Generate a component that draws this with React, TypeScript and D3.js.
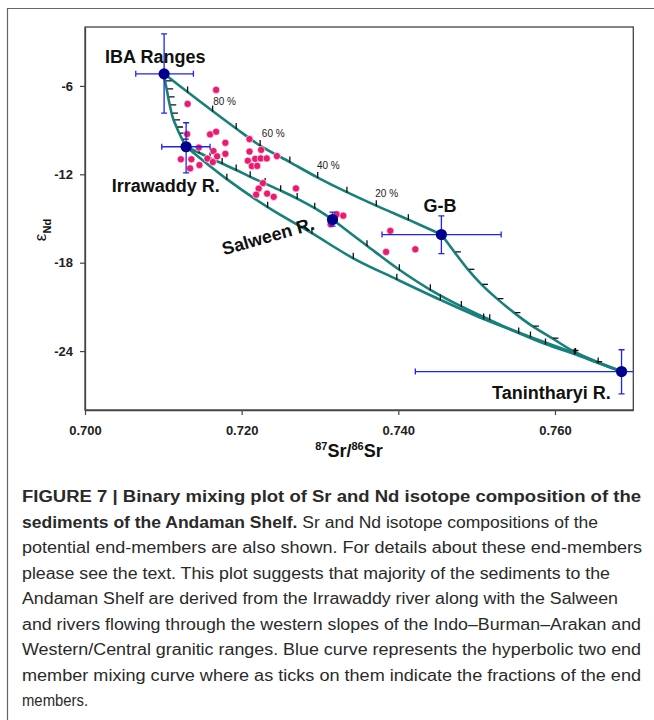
import React, { useEffect, useRef } from "react";
import * as d3 from "d3";

// axis ticks
const X_TICKS = [0.7, 0.72, 0.74, 0.76];
const Y_TICKS = [-6, -12, -18, -24];

// end-members: value and error range (Sr, eNd)
const END_NAMES = ["IBA", "Irrawaddy", "Salween", "GB", "Tanintharyi"];
const END_SR = [0.7101, 0.71291, 0.7316, 0.7455, 0.7685];
const END_ND = [-5.18, -10.13, -15.07, -16.09, -25.39];
const END_SR_LO = [0.70648, 0.7098, 0.73109, 0.73792, 0.74217];
const END_SR_HI = [0.71384, 0.71597, 0.73217, 0.75313, 0.776];
const END_ND_LO = [-7.84, -11.9, -15.52, -17.38, -26.9];
const END_ND_HI = [-2.46, -8.5, -14.57, -14.82, -23.91];

// mixing curves: 10% fraction ticks
const IBA_GB = [
  [0.7131, -6.41], [0.71629, -7.7], [0.7193, -8.89], [0.72236, -10.05], [0.72615, -11.17],
  [0.72971, -12.22], [0.73344, -13.21], [0.73719, -14.13], [0.74128, -15.08],
];
const GB_TAN = [
  [0.74716, -17.27], [0.74888, -18.45], [0.75061, -19.47], [0.75259, -20.44], [0.75476, -21.39],
  [0.75712, -22.31], [0.75962, -23.12], [0.76217, -23.96], [0.76518, -24.71],
];
const IBA_IRR = [
  [0.71022, -5.66], [0.71042, -6.2], [0.71061, -6.75], [0.71082, -7.29], [0.71105, -7.84],
  [0.71131, -8.31], [0.71169, -8.79], [0.71201, -9.2], [0.7124, -9.61],
];
const IRR_SAL = [
  [0.71457, -10.54], [0.71597, -10.9], [0.71751, -11.27], [0.7193, -11.71], [0.72109, -12.17],
  [0.723, -12.63], [0.72498, -13.11], [0.72709, -13.65], [0.72933, -14.3],
];
const SAL_TAN = [
  [0.736, -16.85], [0.74013, -18.48], [0.74409, -19.84], [0.74805, -20.97], [0.75167, -21.88],
  [0.75537, -22.77], [0.75879, -23.52], [0.76249, -24.2], [0.76552, -24.81],
];
const IRR_TAN = [
  [0.71811, -12.33], [0.72332, -14.23], [0.72897, -16.0], [0.73425, -17.7], [0.73981, -19.13],
  [0.74537, -20.52], [0.7509, -21.82], [0.75687, -23.04], [0.76262, -24.16],
];

// Andaman Shelf sediment samples
const SAMPLE_SR = [
  0.71674, 0.7131, 0.71304, 0.71597, 0.71674, 0.71792, 0.71792, 0.71453, 0.7164, 0.71687,
  0.71563, 0.71632, 0.71224, 0.71358, 0.71461, 0.71342, 0.721, 0.721, 0.72249, 0.72079,
  0.7213, 0.72198, 0.72173, 0.72243, 0.7232, 0.7245, 0.72271, 0.72217, 0.72185, 0.72325,
  0.72409, 0.72693, 0.73214, 0.73297, 0.73137, 0.73898, 0.73844, 0.74217,
];
const SAMPLE_ND = [
  -6.27, -7.22, -9.27, -9.29, -9.11, -9.86, -10.61, -10.18, -10.42, -10.78,
  -10.93, -11.17, -10.98, -10.98, -11.37, -11.6, -9.61, -10.46, -10.34, -11.08,
  -11.44, -11.43, -10.95, -10.92, -10.92, -10.76, -12.6, -12.97, -13.38, -13.31,
  -13.53, -12.96, -14.71, -14.81, -15.39, -15.84, -17.27, -17.09,
];

// annotations (text, Sr, eNd at baseline start)
const NAME_LABELS = ["IBA Ranges", "Irrawaddy R.", "G-B", "Tanintharyi R."];
const NAME_SR = [0.70256, 0.70341, 0.74323, 0.75197];
const NAME_ND = [-4.46, -13.19, -14.55, -27.24];
const PCT_LABELS = ["80 %", "60 %", "40 %", "20 %"];
const PCT_SR = [0.71636, 0.72258, 0.72961, 0.73706];
const PCT_ND = [-7.29, -9.45, -11.65, -13.53];

const CAPTION = [
  [["FIGURE 7 | Binary mixing plot of Sr and Nd isotope composition of the", true]],
  [["sediments of the Andaman Shelf.", true], [" Sr and Nd isotope compositions of the", false]],
  [["potential end-members are also shown. For details about these end-members", false]],
  [["please see the text. This plot suggests that majority of the sediments to the", false]],
  [["Andaman Shelf are derived from the Irrawaddy river along with the Salween", false]],
  [["and rivers flowing through the western slopes of the Indo\u2013Burman\u2013Arakan and", false]],
  [["Western/Central granitic ranges. Blue curve represents the hyperbolic two end", false]],
  [["member mixing curve where as ticks on them indicate the fractions of the end", false]],
  [["members.", false]],
];
const CAPTION_WIDTHS = [619, 576, 620, 588, 596, 619, 619, 619, 66];

export default function App() {
  const svgRef = useRef<SVGSVGElement>(null);

  useEffect(() => {
    const W = 654, H = 720;
    const m = { left: 85, right: 633.3, top: 27, bottom: 410 };
    const svg = d3.select(svgRef.current);
    svg.selectAll("*").remove();
    const font = "Arial, 'Liberation Sans', Helvetica, sans-serif";

    const x = d3.scaleLinear().domain([0.7, 0.77]).range([m.left, m.right]);
    const y = d3.scaleLinear().domain([-28, -2]).range([m.bottom, m.top]);

    svg.append("rect").attr("width", W).attr("height", H).attr("fill", "#fff");

    // outer figure frame
    svg.append("path").attr("d", `M7.5,720V8.5H654`).attr("fill", "none")
      .attr("stroke", "#666").attr("stroke-width", 1.2);

    svg.append("defs").append("clipPath").attr("id", "plot-clip")
      .append("rect").attr("x", m.left).attr("y", m.top)
      .attr("width", m.right - m.left).attr("height", m.bottom - m.top);

    // plot box
    svg.append("rect").attr("x", m.left).attr("y", m.top)
      .attr("width", m.right - m.left).attr("height", m.bottom - m.top)
      .attr("fill", "none").attr("stroke", "#444").attr("stroke-width", 1.3);

    const xAxis = svg.append("g").attr("transform", `translate(0,${m.bottom})`)
      .call(d3.axisBottom(x).tickValues(X_TICKS).tickFormat(d3.format(".3f")).tickSize(5).tickSizeOuter(0));
    xAxis.selectAll("text").attr("y", 25).attr("dy", 0);
    const yAxis = svg.append("g").attr("transform", `translate(${m.left},0)`)
      .call(d3.axisLeft(y).tickValues(Y_TICKS).tickFormat((d) => String(d)).tickSize(5).tickSizeOuter(0));
    [xAxis, yAxis].forEach((g) => {
      g.select(".domain").attr("stroke", "#444").attr("stroke-width", 1.3);
      g.selectAll("line").attr("stroke", "#444").attr("stroke-width", 1.2);
      g.selectAll("text").attr("font-family", font).attr("font-size", 13)
        .attr("font-weight", "bold").attr("fill", "#222");
    });
    yAxis.selectAll("text").attr("x", -12);

    // axis titles
    const xt = svg.append("text").attr("x", 349).attr("y", 457).attr("text-anchor", "middle")
      .attr("font-family", font).attr("font-weight", "bold").attr("font-size", 18).attr("fill", "#111");
    xt.append("tspan").attr("font-size", 11).attr("dy", -7).text("87");
    xt.append("tspan").attr("dy", 7).text("Sr/");
    xt.append("tspan").attr("font-size", 11).attr("dy", -7).text("86");
    xt.append("tspan").attr("dy", 7).text("Sr");

    const yt = svg.append("text").attr("transform", "translate(46,230) rotate(-90)")
      .attr("text-anchor", "middle").attr("font-family", font).attr("font-size", 17).attr("fill", "#111");
    yt.append("tspan").text("\u03b5");
    yt.append("tspan").attr("font-size", 11).attr("font-weight", "bold").attr("dy", 5).text("Nd");

    const plot = svg.append("g").attr("clip-path", "url(#plot-clip)");

    // mixing curves
    const pt = (i: number) => [END_SR[i], END_ND[i]];
    const curves = [
      { from: 0, to: 3, pts: IBA_GB, dir: "up" },
      { from: 3, to: 4, pts: GB_TAN, dir: "right" },
      { from: 0, to: 1, pts: IBA_IRR, dir: "right" },
      { from: 1, to: 2, pts: IRR_SAL, dir: "up" },
      { from: 2, to: 4, pts: SAL_TAN, dir: "up" },
      { from: 1, to: 4, pts: IRR_TAN, dir: "up" },
    ];
    const line = d3.line<number[]>().x((d) => x(d[0])).y((d) => y(d[1])).curve(d3.curveCatmullRom.alpha(0.5));
    curves.forEach((c) => {
      plot.append("path").attr("d", line([pt(c.from), ...c.pts, pt(c.to)]))
        .attr("fill", "none").attr("stroke", "#17807b").attr("stroke-width", 2.6);
    });
    curves.forEach((c) => {
      plot.selectAll(null).data(c.pts).join("line")
        .attr("x1", (d) => x(d[0]) + (c.dir === "right" ? 1 : 0))
        .attr("x2", (d) => x(d[0]) + (c.dir === "right" ? 6.5 : 0))
        .attr("y1", (d) => y(d[1]) + (c.dir === "up" ? 0.5 : 0))
        .attr("y2", (d) => y(d[1]) - (c.dir === "up" ? 5.5 : 0))
        .attr("stroke", "#111").attr("stroke-width", 1.3);
    });

    // samples
    plot.selectAll(".sample").data(SAMPLE_SR).join("circle").attr("class", "sample")
      .attr("cx", (d) => x(d)).attr("cy", (_, i) => y(SAMPLE_ND[i])).attr("r", 3.6)
      .attr("fill", "#ea1a70").attr("stroke", "#fff").attr("stroke-width", 0.6);

    // end-member error bars and markers
    const blue = "#2222ee", cap = 3;
    END_NAMES.forEach((_, i) => {
      const cx = x(END_SR[i]), cy = y(END_ND[i]);
      const x0 = x(END_SR_LO[i]), x1 = x(END_SR_HI[i]);
      const y0 = y(END_ND_LO[i]), y1 = y(END_ND_HI[i]);
      const g = plot.append("g").attr("stroke", blue).attr("stroke-width", 1.3).attr("fill", "none");
      g.append("path").attr("d",
        `M${x0},${cy}H${x1}M${x0},${cy - cap}V${cy + cap}M${x1},${cy - cap}V${cy + cap}` +
        `M${cx},${y0}V${y1}M${cx - cap},${y0}H${cx + cap}M${cx - cap},${y1}H${cx + cap}`);
      plot.append("circle").attr("cx", cx).attr("cy", cy).attr("r", 5.6).attr("fill", "#00008c");
    });

    // labels
    NAME_LABELS.forEach((t, i) => {
      svg.append("text").attr("x", x(NAME_SR[i])).attr("y", y(NAME_ND[i]))
        .attr("font-family", font).attr("font-weight", "bold").attr("font-size", 18)
        .attr("fill", "#111").text(t);
    });
    svg.append("text").attr("transform", `translate(${x(0.71776)},${y(-17.5)}) rotate(-16)`)
      .attr("font-family", font).attr("font-weight", "bold").attr("font-size", 18)
      .attr("fill", "#111").text("Salween R.");
    PCT_LABELS.forEach((t, i) => {
      svg.append("text").attr("x", x(PCT_SR[i])).attr("y", y(PCT_ND[i]))
        .attr("font-family", font).attr("font-size", 10).attr("fill", "#222").text(t);
    });

    // caption
    const capFont = "'Liberation Sans Narrow', Arial, 'Liberation Sans', sans-serif";
    CAPTION.forEach((parts, li) => {
      const t = svg.append("text").attr("x", 22).attr("y", 502 + li * 25.5)
        .attr("font-family", capFont).attr("font-size", 16).attr("fill", "#2a2a2a")
        .attr("textLength", CAPTION_WIDTHS[li]).attr("lengthAdjust", "spacingAndGlyphs");
      parts.forEach(([s, b]) => {
        t.append("tspan").attr("font-weight", b ? "bold" : "normal").text(s as string);
      });
    });
  }, []);

  return (
    <svg ref={svgRef} width={654} height={720}
      style={{ position: "absolute", left: 0, top: 0, display: "block" }} />
  );
}
